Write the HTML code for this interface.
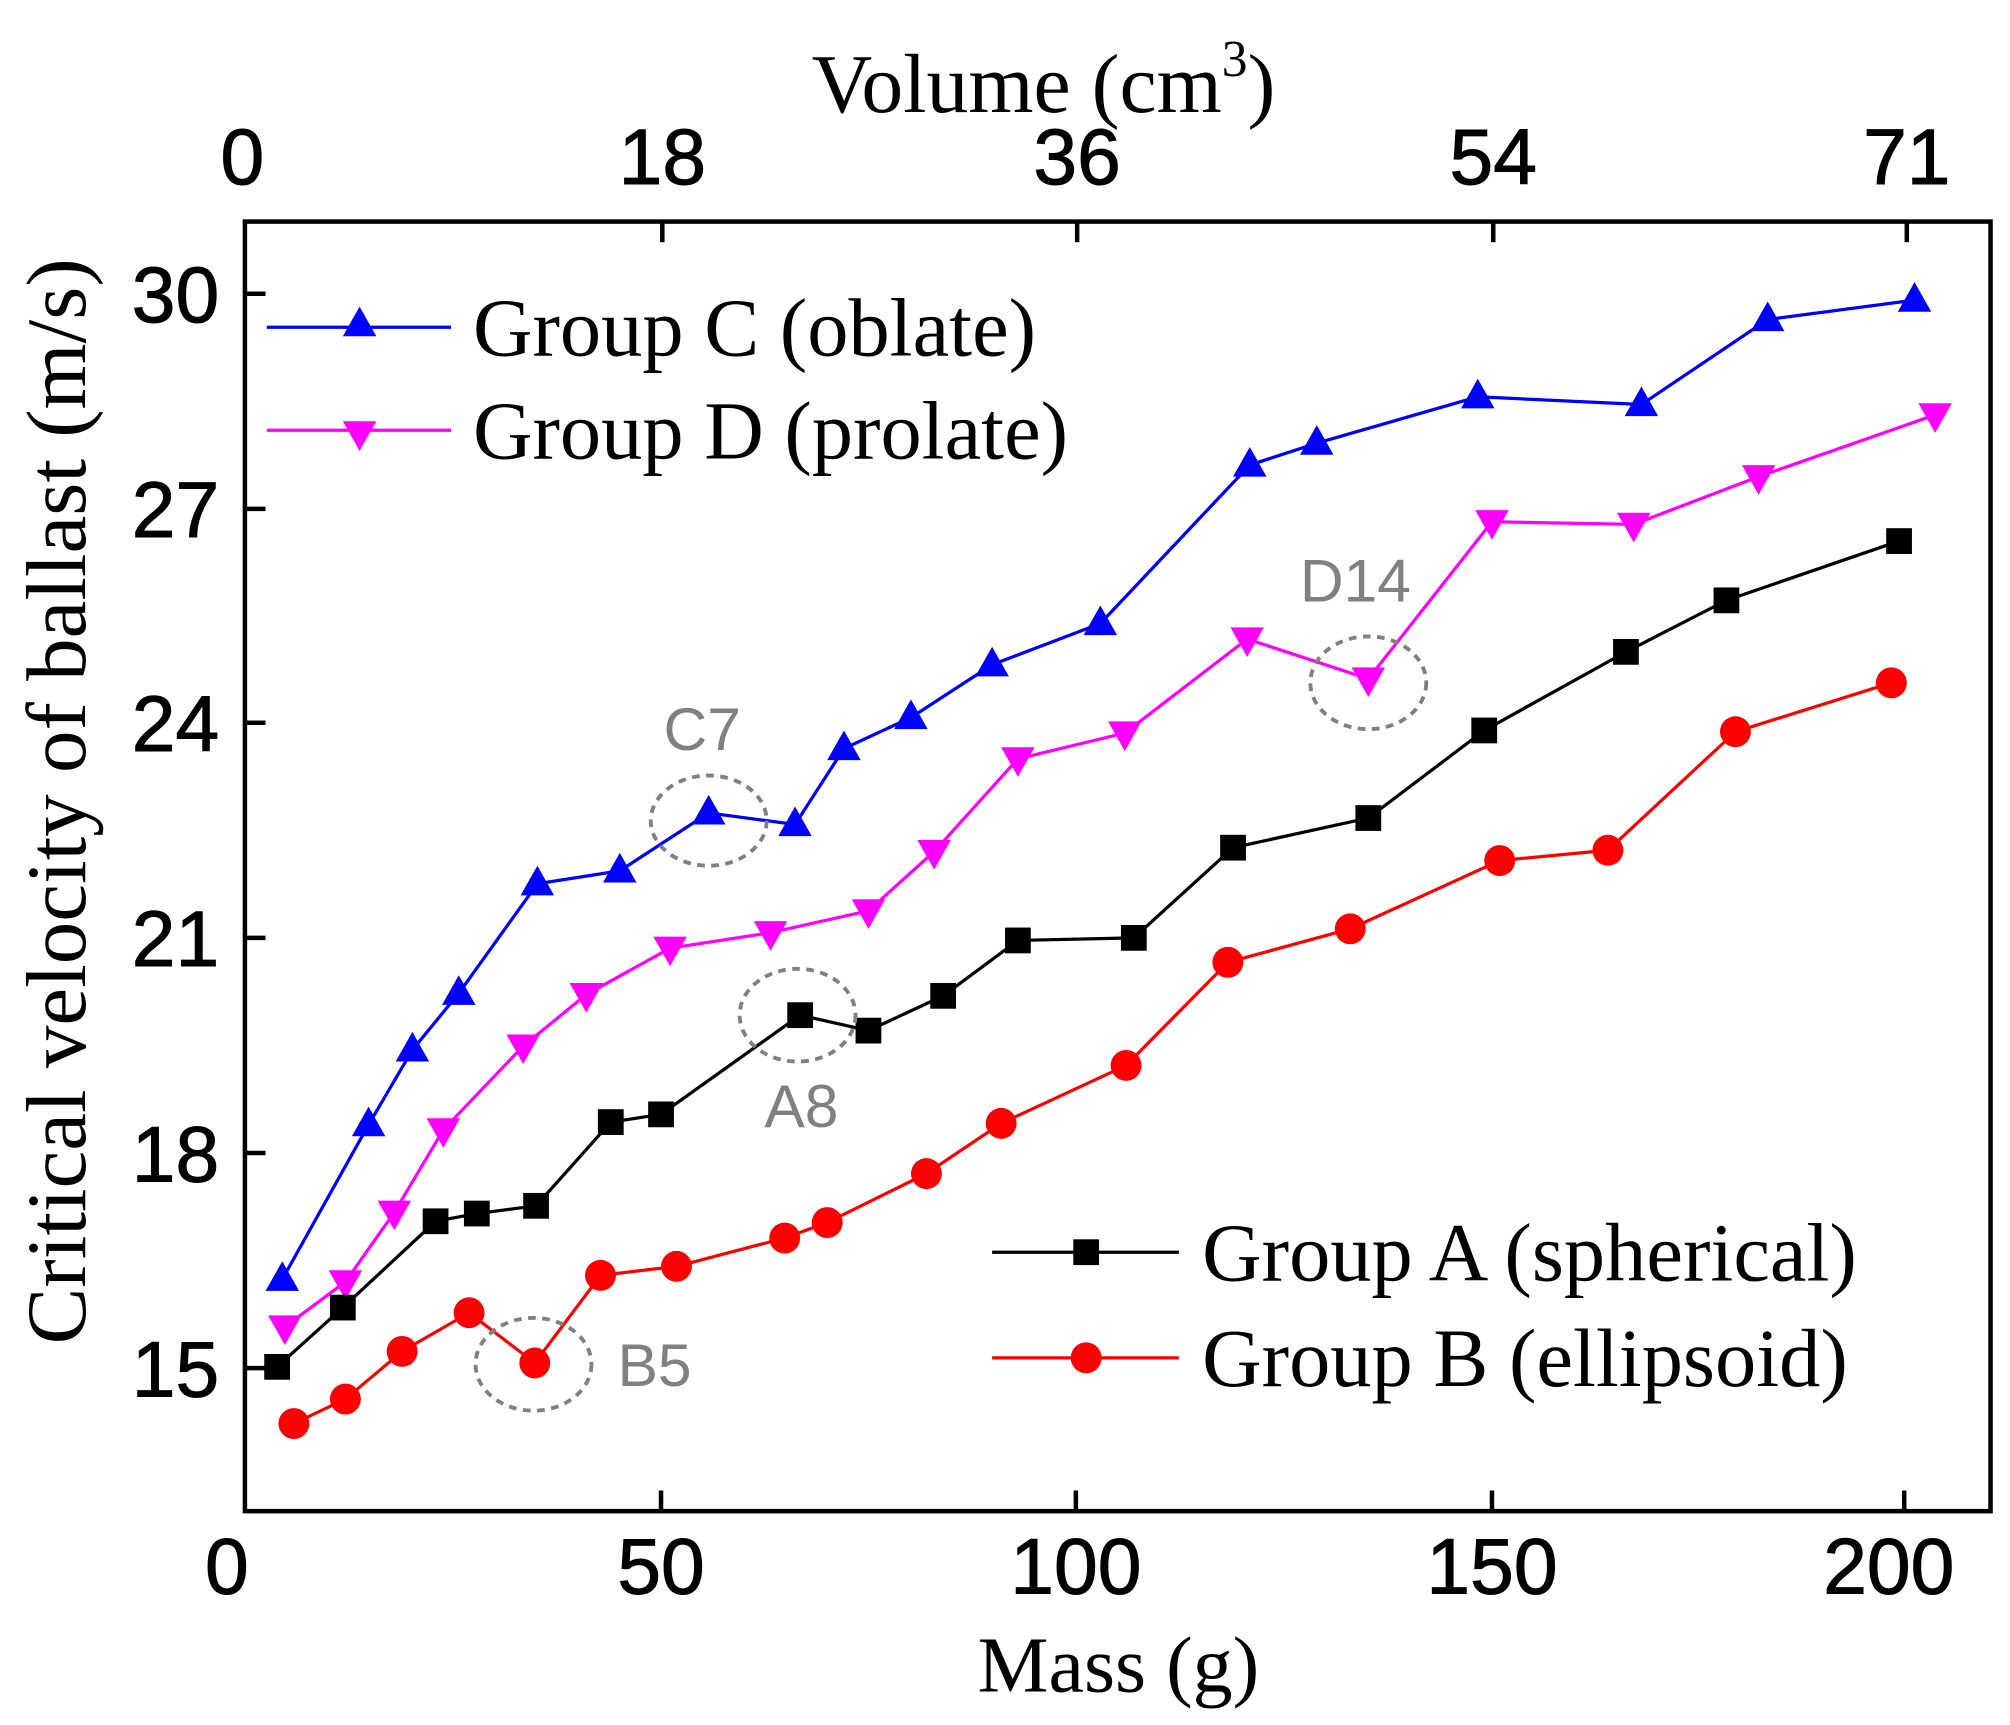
<!DOCTYPE html>
<html><head><style>html,body{margin:0;padding:0;background:#fff}svg{display:block}</style></head><body>
<svg width="2010" height="1725" viewBox="0 0 1560 1339" xmlns="http://www.w3.org/2000/svg">
<defs>
<path id="tu" d="M0,-14 L13,9 L-13,9 Z" fill="#0000ff"/>
<path id="td" d="M0,14 L13,-9 L-13,-9 Z" fill="#ff00ff"/>
<rect id="sq" x="-10" y="-10" width="20" height="20" fill="#000"/>
<circle id="ci" r="12" fill="#ff0000"/>
</defs>
<rect x="190" y="172" width="1355" height="1001" fill="none" stroke="#000" stroke-width="3.5"/>
<g stroke="#000" stroke-width="3.5">
<line x1="514" y1="172" x2="514" y2="188"/><line x1="836" y1="172" x2="836" y2="188"/><line x1="1159" y1="172" x2="1159" y2="188"/><line x1="1480" y1="172" x2="1480" y2="188"/>
<line x1="513" y1="1173" x2="513" y2="1157"/><line x1="835" y1="1173" x2="835" y2="1157"/><line x1="1158" y1="1173" x2="1158" y2="1157"/><line x1="1478" y1="1173" x2="1478" y2="1157"/>
<line x1="190" y1="228" x2="206" y2="228"/><line x1="190" y1="395" x2="206" y2="395"/><line x1="190" y1="561" x2="206" y2="561"/><line x1="190" y1="728" x2="206" y2="728"/><line x1="190" y1="895" x2="206" y2="895"/><line x1="190" y1="1062" x2="206" y2="1062"/>
</g>
<g font-family="Liberation Sans, sans-serif" font-size="61" fill="#000" stroke="#000" stroke-width="0.8" text-anchor="middle">
<text x="188" y="143">0</text><text x="514" y="143">18</text><text x="836" y="143">36</text><text x="1159" y="143">54</text><text x="1480" y="143">71</text>
<text x="176" y="1237">0</text><text x="513" y="1237">50</text><text x="835" y="1237">100</text><text x="1158" y="1237">150</text><text x="1466" y="1237">200</text>
</g>
<g font-family="Liberation Sans, sans-serif" font-size="61" fill="#000" stroke="#000" stroke-width="0.8" text-anchor="end">
<text x="170" y="250">30</text><text x="170" y="417">27</text><text x="170" y="583">24</text><text x="170" y="750">21</text><text x="170" y="917">18</text><text x="170" y="1084">15</text>
</g>
<g font-family="Liberation Serif, serif" font-size="65" fill="#000">
<text x="630" y="87">Volume (cm<tspan font-size="40" dy="-28">3</tspan><tspan dy="28">)</tspan></text>
<text x="868" y="1313" text-anchor="middle" font-size="62">Mass (g)</text>
<text transform="translate(66,622) rotate(-90)" text-anchor="middle" font-size="66">Critical velocity of ballast (m/s)</text>
</g>
<g fill="none" stroke-width="2.5">
<polyline stroke="#0000ff" points="219,993 286,873 320,815 356,771 417,686 481,676 550,631 617,640 655,581 707,557 770,516 854,484 970,361 1022,344 1147,308 1274,314 1372,248 1486,233"/>
<polyline stroke="#ff00ff" points="221,1030 268,995 306,941 344,877 406,812 455,772 520,736 598,724 674,707 725,661 790,589 873,569 968,496 1062,527 1158,405 1268,407 1365,370 1502,322"/>
<polyline stroke="#000" points="215,1061 266,1015 338,948 370,942 416,936 474,871 513,865 621,788 674,800 732,773 790,730 880,728 957,658 1062,635 1152,567 1262,506 1340,466 1474,420"/>
<polyline stroke="#ff0000" points="228,1105 268,1086 312,1049 364,1019 415,1058 466,990 525,983 609,961 642,949 719,911 777,872 874,827 953,747 1048,721 1164,668 1248,660 1347,568 1468,530"/>
<line x1="207" y1="254" x2="350" y2="254" stroke="#0000ff"/>
<line x1="207" y1="334" x2="350" y2="334" stroke="#ff00ff"/>
<line x1="770" y1="972" x2="915" y2="972" stroke="#000"/>
<line x1="770" y1="1054" x2="915" y2="1054" stroke="#ff0000"/>
</g>
<g>
<use href="#tu" x="219" y="993"/><use href="#tu" x="286" y="873"/><use href="#tu" x="320" y="815"/><use href="#tu" x="356" y="771"/><use href="#tu" x="417" y="686"/><use href="#tu" x="481" y="676"/><use href="#tu" x="550" y="631"/><use href="#tu" x="617" y="640"/><use href="#tu" x="655" y="581"/><use href="#tu" x="707" y="557"/><use href="#tu" x="770" y="516"/><use href="#tu" x="854" y="484"/><use href="#tu" x="970" y="361"/><use href="#tu" x="1022" y="344"/><use href="#tu" x="1147" y="308"/><use href="#tu" x="1274" y="314"/><use href="#tu" x="1372" y="248"/><use href="#tu" x="1486" y="233"/><use href="#tu" x="279" y="252"/>
<use href="#td" x="221" y="1030"/><use href="#td" x="268" y="995"/><use href="#td" x="306" y="941"/><use href="#td" x="344" y="877"/><use href="#td" x="406" y="812"/><use href="#td" x="455" y="772"/><use href="#td" x="520" y="736"/><use href="#td" x="598" y="724"/><use href="#td" x="674" y="707"/><use href="#td" x="725" y="661"/><use href="#td" x="790" y="589"/><use href="#td" x="873" y="569"/><use href="#td" x="968" y="496"/><use href="#td" x="1062" y="527"/><use href="#td" x="1158" y="405"/><use href="#td" x="1268" y="407"/><use href="#td" x="1365" y="370"/><use href="#td" x="1502" y="322"/><use href="#td" x="279" y="336"/>
<use href="#sq" x="215" y="1061"/><use href="#sq" x="266" y="1015"/><use href="#sq" x="338" y="948"/><use href="#sq" x="370" y="942"/><use href="#sq" x="416" y="936"/><use href="#sq" x="474" y="871"/><use href="#sq" x="513" y="865"/><use href="#sq" x="621" y="788"/><use href="#sq" x="674" y="800"/><use href="#sq" x="732" y="773"/><use href="#sq" x="790" y="730"/><use href="#sq" x="880" y="728"/><use href="#sq" x="957" y="658"/><use href="#sq" x="1062" y="635"/><use href="#sq" x="1152" y="567"/><use href="#sq" x="1262" y="506"/><use href="#sq" x="1340" y="466"/><use href="#sq" x="1474" y="420"/><use href="#sq" x="843" y="972"/>
<use href="#ci" x="228" y="1105"/><use href="#ci" x="268" y="1086"/><use href="#ci" x="312" y="1049"/><use href="#ci" x="364" y="1019"/><use href="#ci" x="415" y="1058"/><use href="#ci" x="466" y="990"/><use href="#ci" x="525" y="983"/><use href="#ci" x="609" y="961"/><use href="#ci" x="642" y="949"/><use href="#ci" x="719" y="911"/><use href="#ci" x="777" y="872"/><use href="#ci" x="874" y="827"/><use href="#ci" x="953" y="747"/><use href="#ci" x="1048" y="721"/><use href="#ci" x="1164" y="668"/><use href="#ci" x="1248" y="660"/><use href="#ci" x="1347" y="568"/><use href="#ci" x="1468" y="530"/><use href="#ci" x="843" y="1054"/>
</g>
<g fill="none" stroke="#808080" stroke-width="3" stroke-dasharray="6,5">
<ellipse cx="550" cy="637" rx="45" ry="35"/>
<ellipse cx="1062" cy="530" rx="45" ry="36"/>
<ellipse cx="619" cy="788" rx="45" ry="36"/>
<ellipse cx="414" cy="1059" rx="45" ry="36"/>
</g>
<g font-family="Liberation Sans, sans-serif" font-size="47" fill="#808080" text-anchor="middle">
<text x="545" y="582">C7</text><text x="1052" y="467">D14</text><text x="622" y="875">A8</text><text x="508" y="1076">B5</text>
</g>
<g font-family="Liberation Serif, serif" font-size="64" fill="#000">
<text x="367" y="276">Group C (oblate)</text>
<text x="367" y="356">Group D (prolate)</text>
<text x="933" y="994">Group A (spherical)</text>
<text x="933" y="1076">Group B (ellipsoid)</text>
</g>
</svg>
</body></html>
